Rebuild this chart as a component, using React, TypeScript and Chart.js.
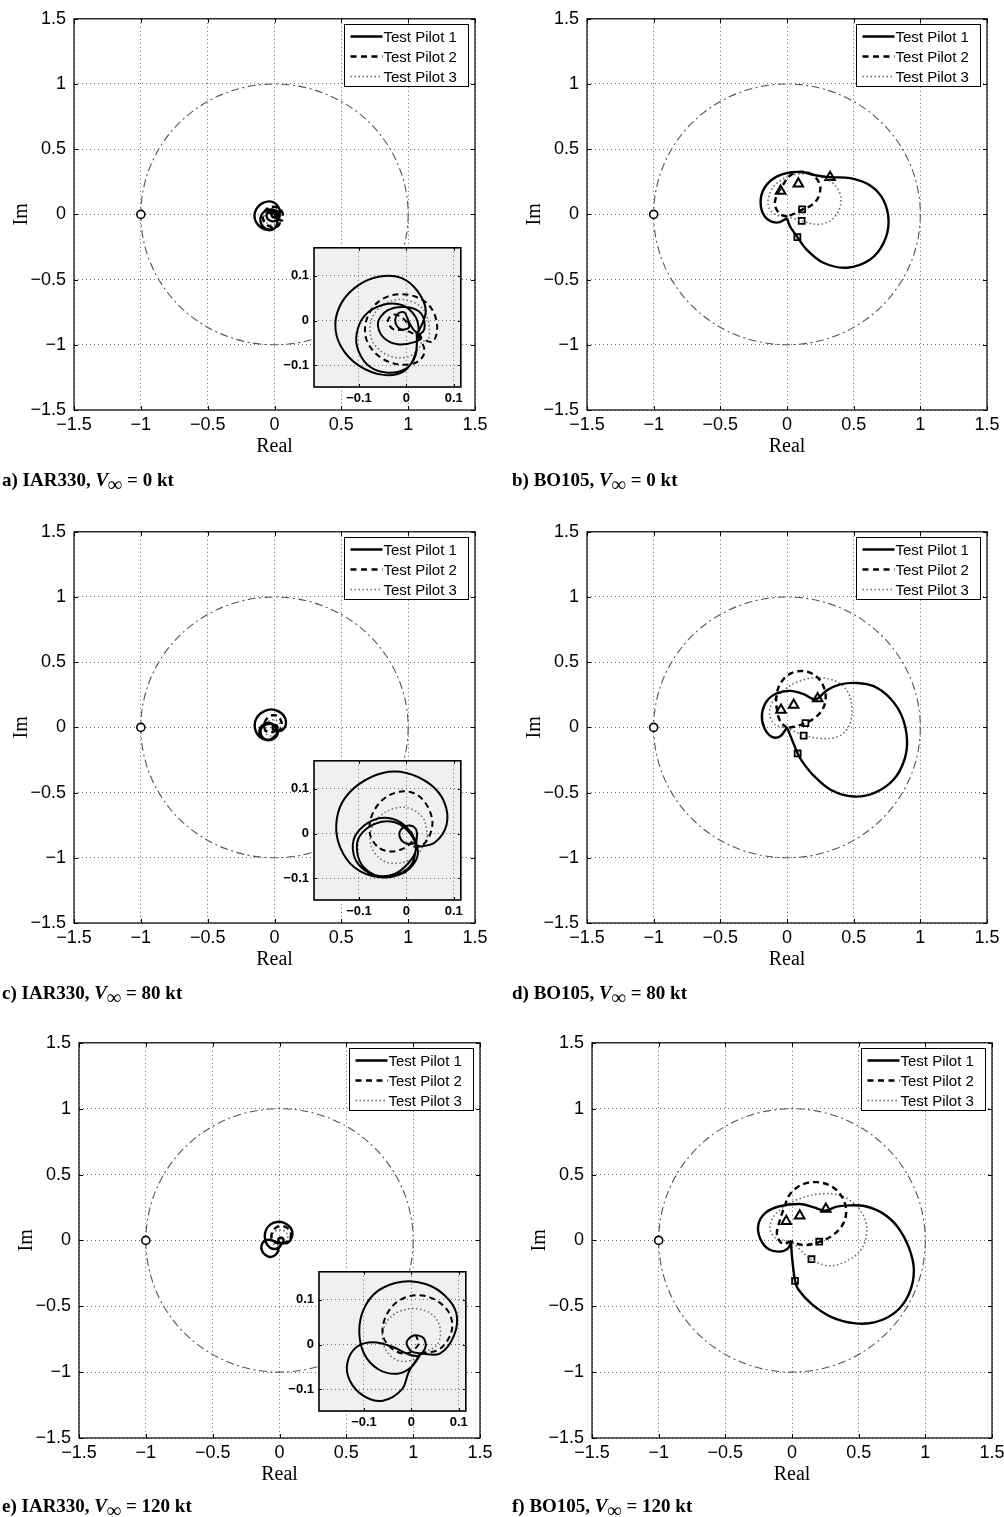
import React, { useEffect, useRef } from 'react';
import { Chart, registerables } from 'chart.js';

Chart.register(...registerables);

type P = [number, number];

// ---------- shared labels / ticks ----------
const PILOT_LABELS = ['Test Pilot 1', 'Test Pilot 2', 'Test Pilot 3'];
const AXIS_TICKS = [-1.5, -1, -0.5, 0, 0.5, 1, 1.5];
const INSET_TICKS = [-0.1, 0, 0.1];
const CRITICAL_POINT: P[] = [[-1, 0]];
const UNIT_CIRCLE_RADIUS = 1;
const AIRCRAFT = ['IAR330', 'BO105'];
const SPEEDS_KT = [0, 80, 120];
const PANEL_LETTERS = ['a', 'b', 'c', 'd', 'e', 'f'];

// ---------- IAR330, 0 kt ----------
const A_TP1: P[] = [
  [0.022, -0.034], [0.041, 0.02], [0.024, 0.065], [-0.011, 0.095], [-0.056, 0.098], [-0.101, 0.079],
  [-0.136, 0.041], [-0.15, -0.008], [-0.138, -0.058], [-0.101, -0.1], [-0.049, -0.121], [-0.004, -0.112],
  [0.019, -0.075], [0.022, -0.034], [0.019, -0.079], [-0.001, -0.107], [-0.039, -0.116], [-0.077, -0.103],
  [-0.101, -0.068], [-0.105, -0.03], [-0.088, 0.011], [-0.049, 0.035], [-0.008, 0.034], [0.019, 0.009],
  [0.026, -0.019], [0.022, -0.034], [0.038, -0.019], [0.031, 0.016], [-0.001, 0.03], [-0.039, 0.023],
  [-0.06, -0.005], [-0.049, -0.037], [-0.018, -0.053], [0.017, -0.048], [0.031, -0.037], [0.015, -0.02],
  [0.006, -0.005], [-0.004, 0.018], [-0.018, 0.015], [-0.023, -0.005], [-0.011, -0.02], [0.006, -0.015],
  [0.003, -0.001],
];
const A_TP2: P[] = [
  [0.022, -0.034], [0.055, -0.047], [0.065, -0.012], [0.051, 0.03], [0.02, 0.053], [-0.022, 0.058],
  [-0.06, 0.041], [-0.084, 0.002], [-0.085, -0.04], [-0.063, -0.075], [-0.025, -0.096], [0.017, -0.095],
  [0.038, -0.072], [0.027, -0.04], [-0.001, -0.022], [-0.028, -0.019], [-0.039, -0.001], [-0.028, 0.013],
  [-0.008, 0.006], [0.006, -0.013],
];
const A_TP3: P[] = [
  [0.022, -0.034], [0.044, -0.047], [0.048, -0.012], [0.034, 0.027], [-0.001, 0.046], [-0.039, 0.041],
  [-0.067, 0.016], [-0.077, -0.019], [-0.067, -0.054], [-0.035, -0.079], [0.003, -0.081], [0.027, -0.061],
  [0.031, -0.04], [0.015, -0.025],
];

// ---------- BO105, 0 kt ----------
const B_TP1: P[] = [
  [0, -0.03], [-0.078, -0.063], [-0.165, -0.018], [-0.198, 0.096], [-0.165, 0.21], [-0.078, 0.29],
  [0.035, 0.323], [0.123, 0.323], [0.223, 0.298], [0.323, 0.285], [0.474, 0.278], [0.624, 0.222],
  [0.724, 0.109], [0.762, -0.056], [0.724, -0.22], [0.624, -0.346], [0.449, -0.409], [0.273, -0.371],
  [0.148, -0.27], [0.078, -0.174], [0.023, -0.093], [0, -0.03],
];
const B_TP2: P[] = [
  [0, -0.018], [-0.058, 0.008], [-0.09, 0.071], [-0.078, 0.146], [-0.04, 0.21], [0.023, 0.298],
  [0.11, 0.328], [0.198, 0.298], [0.248, 0.222], [0.236, 0.134], [0.185, 0.071], [0.118, 0.038],
  [0.048, 0.003], [0, -0.018],
];
const B_TP3: P[] = [
  [0, -0.018], [-0.078, -0.005], [-0.133, 0.045], [-0.14, 0.121], [-0.103, 0.21], [-0.015, 0.28],
  [0.098, 0.31], [0.223, 0.298], [0.336, 0.247], [0.398, 0.159], [0.398, 0.058], [0.348, -0.03],
  [0.248, -0.076], [0.123, -0.056], [0.048, -0.03], [0, -0.018],
];
const B_TRI: P[] = [[-0.048, 0.18], [0.085, 0.235], [0.323, 0.285]];
const B_SQ: P[] = [[0.113, 0.038], [0.11, -0.05], [0.078, -0.174]];

// ---------- IAR330, 80 kt ----------
const C_TP1: P[] = [
  [0.023, -0.03], [0.06, -0.02], [0.085, 0.02], [0.08, 0.07], [0.05, 0.11], [0.0, 0.135], [-0.05, 0.135],
  [-0.1, 0.11], [-0.135, 0.07], [-0.148, 0.02], [-0.14, -0.03], [-0.11, -0.075], [-0.06, -0.097],
  [-0.01, -0.09], [0.02, -0.06], [0.023, -0.03], [0.004, 0.01], [-0.03, 0.033], [-0.07, 0.03],
  [-0.105, 0.0], [-0.113, -0.035], [-0.1, -0.07], [-0.065, -0.093], [-0.025, -0.09], [0.005, -0.065],
  [0.02, -0.035], [0.008, 0.0], [-0.025, 0.025], [-0.065, 0.022], [-0.098, -0.005], [-0.104, -0.04],
  [-0.09, -0.075], [-0.055, -0.096], [-0.015, -0.09], [0.013, -0.065], [0.022, -0.01], [0.02, 0.01],
  [0.005, 0.018], [-0.012, 0.008], [-0.013, -0.01], [0.0, -0.022], [0.018, -0.02], [0.022, -0.008],
];
const C_TP2: P[] = [
  [0.015, -0.03], [0.04, -0.02], [0.055, 0.02], [0.045, 0.06], [0.02, 0.088], [-0.015, 0.093],
  [-0.05, 0.075], [-0.073, 0.04], [-0.077, 0.0], [-0.06, -0.03], [-0.035, -0.04], [-0.01, -0.035],
  [0.01, -0.02], [0.012, 0.0], [0.0, 0.01],
];
const C_TP3: P[] = [
  [0.045, -0.005], [0.035, 0.035], [0.0, 0.058], [-0.04, 0.05], [-0.07, 0.02], [-0.075, -0.025],
  [-0.05, -0.06], [-0.01, -0.065], [0.025, -0.045], [0.045, -0.005],
];

// ---------- BO105, 80 kt ----------
const D_TP1: P[] = [
  [0, 0], [-0.05, -0.068], [-0.113, -0.073], [-0.17, -0.005], [-0.188, 0.096], [-0.155, 0.197],
  [-0.08, 0.26], [0.025, 0.28], [0.125, 0.255], [0.213, 0.215], [0.3, 0.285], [0.4, 0.33],
  [0.525, 0.341], [0.65, 0.316], [0.775, 0.222], [0.863, 0.083], [0.9, -0.093], [0.88, -0.25],
  [0.8, -0.4], [0.66, -0.5], [0.5, -0.53], [0.33, -0.48], [0.2, -0.37], [0.12, -0.27], [0.08, -0.2],
  [0.04, -0.1], [0, 0],
];
const D_TP2: P[] = [
  [0, -0.005], [-0.05, 0.045], [-0.075, 0.134], [-0.08, 0.235], [-0.05, 0.336], [0.025, 0.412],
  [0.125, 0.432], [0.22, 0.391], [0.28, 0.298], [0.288, 0.197], [0.25, 0.114], [0.188, 0.058],
  [0.138, 0.033], [0.063, 0.008], [0, -0.005],
];
const D_TP3: P[] = [
  [0, -0.005], [-0.088, 0.02], [-0.13, 0.096], [-0.113, 0.184], [-0.038, 0.273], [0.075, 0.348],
  [0.225, 0.381], [0.363, 0.356], [0.455, 0.273], [0.488, 0.134], [0.463, 0.008], [0.388, -0.068],
  [0.263, -0.086], [0.138, -0.063], [0.05, -0.03], [0, -0.005],
];
const D_TRI: P[] = [[-0.045, 0.134], [0.05, 0.172], [0.23, 0.222]];
const D_SQ: P[] = [[0.138, 0.033], [0.125, -0.063], [0.08, -0.2]];

// ---------- IAR330, 120 kt ----------
const E_TP1: P[] = [
  [0.02, -0.02], [0.06, -0.02], [0.09, 0.02], [0.095, 0.07], [0.07, 0.11], [0.03, 0.135], [-0.02, 0.14],
  [-0.07, 0.12], [-0.1, 0.08], [-0.11, 0.03], [-0.1, -0.02], [-0.07, -0.055], [-0.03, -0.065],
  [0.0, -0.05], [0.02, -0.02], [-0.005, -0.06], [-0.02, -0.1], [-0.06, -0.125], [-0.1, -0.115],
  [-0.13, -0.08], [-0.135, -0.04], [-0.115, -0.005], [-0.08, 0.005], [-0.04, -0.005], [-0.01, -0.02],
  [0.015, -0.025], [0.03, -0.005], [0.025, 0.015], [0.005, 0.02], [-0.01, 0.005], [0.0, -0.015],
  [0.02, -0.02],
];
const E_TP2: P[] = [
  [0.02, -0.02], [0.06, -0.01], [0.085, 0.03], [0.08, 0.07], [0.05, 0.1], [0.01, 0.11], [-0.03, 0.095],
  [-0.055, 0.06], [-0.06, 0.02], [-0.04, -0.01], [-0.01, -0.02], [0.015, 0.0], [0.01, 0.02],
];
const E_TP3: P[] = [
  [0.02, -0.02], [0.055, 0.0], [0.06, 0.04], [0.04, 0.07], [0.0, 0.08], [-0.04, 0.065], [-0.06, 0.03],
  [-0.055, -0.01], [-0.03, -0.035], [0.0, -0.035], [0.02, -0.02],
];

// ---------- BO105, 120 kt ----------
const F_TP1: P[] = [
  [-0.005, -0.005], [-0.03, -0.06], [-0.093, -0.085], [-0.174, -0.068], [-0.239, 0.015], [-0.252, 0.121],
  [-0.199, 0.209], [-0.093, 0.259], [0.058, 0.276], [0.164, 0.251], [0.247, 0.226], [0.335, 0.256],
  [0.436, 0.266], [0.549, 0.259], [0.675, 0.209], [0.788, 0.108], [0.877, -0.055], [0.914, -0.231],
  [0.877, -0.407], [0.776, -0.545], [0.625, -0.621], [0.461, -0.628], [0.297, -0.583], [0.146, -0.482],
  [0.045, -0.369], [0.023, -0.307], [0.003, -0.156], [-0.005, -0.055], [-0.005, -0.005],
];
const F_TP2: P[] = [
  [-0.005, -0.005], [-0.073, -0.025], [-0.113, 0.045], [-0.093, 0.146], [-0.055, 0.259], [-0.018, 0.347],
  [0.071, 0.422], [0.184, 0.442], [0.297, 0.41], [0.38, 0.322], [0.406, 0.209], [0.373, 0.108],
  [0.297, 0.033], [0.209, -0.01], [0.108, -0.035], [0.033, -0.025], [-0.005, -0.005],
];
const F_TP3: P[] = [
  [-0.005, -0.005], [-0.118, 0.015], [-0.164, 0.083], [-0.144, 0.171], [-0.055, 0.259], [0.071, 0.322],
  [0.222, 0.354], [0.36, 0.342], [0.474, 0.271], [0.549, 0.158], [0.557, 0.033], [0.511, -0.08],
  [0.411, -0.156], [0.285, -0.193], [0.154, -0.151], [0.058, -0.068], [-0.005, -0.005],
];
const F_TRI: P[] = [[-0.043, 0.146], [0.058, 0.188], [0.254, 0.239]];
const F_SQ: P[] = [[0.204, -0.01], [0.146, -0.143], [0.023, -0.307]];

// ---------- styling ----------
const STYLES = [
  { color: '#000000', width: 2.4, dash: [] as number[] },
  { color: '#000000', width: 2.4, dash: [6, 4] },
  { color: '#6a6a6a', width: 1.6, dash: [1.5, 2.5] },
];
const INSET_WIDTHS = [2, 2, 1.5];

const fmt = (v: number) => {
  const r = Math.round(v * 100) / 100;
  if (r === 0) return '0';
  return r < 0 ? '\u2212' + String(-r) : String(r);
};

const toXY = (arr: P[]) => arr.map(([x, y]) => ({ x, y }));

function framePlugin(opts: { legend: boolean; circle: boolean; bg: string | null; tickLen: number; boxWidth: number }) {
  return {
    id: 'frame',
    beforeDraw(chart: any) {
      if (!opts.bg) return;
      const { ctx, chartArea: a } = chart;
      ctx.save();
      ctx.fillStyle = opts.bg;
      ctx.fillRect(a.left, a.top, a.right - a.left, a.bottom - a.top);
      ctx.restore();
    },
    beforeDatasetsDraw(chart: any) {
      if (!opts.circle) return;
      const { ctx, chartArea: a } = chart;
      const xs = chart.scales.x;
      const ys = chart.scales.y;
      const cx = xs.getPixelForValue(0);
      const cy = ys.getPixelForValue(0);
      const rx = Math.abs(xs.getPixelForValue(UNIT_CIRCLE_RADIUS) - cx);
      const ry = Math.abs(ys.getPixelForValue(UNIT_CIRCLE_RADIUS) - cy);
      ctx.save();
      ctx.beginPath();
      ctx.rect(a.left, a.top, a.right - a.left, a.bottom - a.top);
      ctx.clip();
      ctx.strokeStyle = '#555555';
      ctx.lineWidth = 1.1;
      ctx.setLineDash([8, 3.5, 2, 3.5]);
      ctx.beginPath();
      ctx.ellipse(cx, cy, rx, ry, 0, 0, Math.PI * 2);
      ctx.stroke();
      ctx.restore();
    },
    afterDraw(chart: any) {
      const { ctx, chartArea: a } = chart;
      const xs = chart.scales.x;
      const ys = chart.scales.y;
      ctx.save();
      ctx.strokeStyle = '#000';
      ctx.lineWidth = 1;
      ctx.setLineDash([]);
      const t = opts.tickLen;
      ctx.beginPath();
      xs.ticks.forEach((tk: any) => {
        const px = Math.round(xs.getPixelForValue(tk.value)) + 0.5;
        ctx.moveTo(px, a.bottom);
        ctx.lineTo(px, a.bottom - t);
        ctx.moveTo(px, a.top);
        ctx.lineTo(px, a.top + t);
      });
      ys.ticks.forEach((tk: any) => {
        const py = Math.round(ys.getPixelForValue(tk.value)) + 0.5;
        ctx.moveTo(a.left, py);
        ctx.lineTo(a.left + t, py);
        ctx.moveTo(a.right, py);
        ctx.lineTo(a.right - t, py);
      });
      ctx.stroke();
      ctx.lineWidth = opts.boxWidth;
      ctx.strokeRect(a.left, a.top, a.right - a.left, a.bottom - a.top);

      if (opts.legend) {
        const w = 124;
        const h = 62;
        const lx = Math.round(a.right - 7 - w) + 0.5;
        const ly = Math.round(a.top + 5) + 0.5;
        ctx.fillStyle = '#fff';
        ctx.fillRect(lx, ly, w, h);
        ctx.lineWidth = 1;
        ctx.strokeStyle = '#000';
        ctx.strokeRect(lx, ly, w, h);
        ctx.font = '15px "Liberation Sans", Arial, sans-serif';
        ctx.textBaseline = 'middle';
        ctx.fillStyle = '#000';
        PILOT_LABELS.forEach((lab, i) => {
          const y = ly + 12 + i * 20;
          const st = STYLES[i];
          ctx.strokeStyle = st.color;
          ctx.lineWidth = st.width;
          ctx.setLineDash(i === 1 ? [6, 4.5] : st.dash);
          ctx.beginPath();
          ctx.moveTo(lx + 6, y);
          ctx.lineTo(lx + 38, y);
          ctx.stroke();
          ctx.setLineDash([]);
          ctx.fillText(lab, lx + 39, y + 1);
        });
      }
      ctx.restore();
    },
  };
}

const AREA_PAD_LEFT = 74;
const AREA_PAD_TOP = 13;
const AREA_PAD_RIGHT = 25;
const AREA_PAD_BOTTOM = 60;

function buildMain(canvas: HTMLCanvasElement, series: P[][], tri: P[], sq: P[]) {
  const datasets: any[] = series.map((s, i) => ({
    label: PILOT_LABELS[i],
    data: toXY(s),
    showLine: true,
    pointRadius: 0,
    borderColor: STYLES[i].color,
    borderWidth: STYLES[i].width,
    borderDash: STYLES[i].dash,
    tension: 0.35,
    fill: false,
  }));
  if (tri.length)
    datasets.push({
      label: 'tri',
      data: toXY(tri),
      showLine: false,
      pointStyle: 'triangle',
      pointRadius: 5.5,
      pointBorderWidth: 2,
      pointBorderColor: '#000',
      pointBackgroundColor: 'rgba(0,0,0,0)',
    });
  if (sq.length)
    datasets.push({
      label: 'sq',
      data: toXY(sq),
      showLine: false,
      pointStyle: 'rect',
      pointRadius: 4.2,
      pointBorderWidth: 1.8,
      pointBorderColor: '#000',
      pointBackgroundColor: 'rgba(0,0,0,0)',
    });
  datasets.push({
    label: 'crit',
    data: toXY(CRITICAL_POINT),
    showLine: false,
    pointStyle: 'circle',
    pointRadius: 4,
    pointBorderWidth: 1.6,
    pointBorderColor: '#000',
    pointBackgroundColor: '#fff',
  });
  const tickFont = { family: '"Liberation Sans", Arial, sans-serif', size: 18 };
  const titleFont = { family: '"Liberation Serif", "Times New Roman", serif', size: 20 };
  const grid = { color: '#6e6e6e', lineWidth: 1, drawTicks: false };
  const border = { display: false, dash: [1, 3] };
  return new Chart(canvas, {
    type: 'scatter',
    data: { datasets },
    options: {
      animation: false,
      responsive: false,
      events: [],
      layout: { padding: { top: AREA_PAD_TOP, right: AREA_PAD_RIGHT, left: 0, bottom: 0 } },
      plugins: { legend: { display: false }, tooltip: { enabled: false } },
      scales: {
        x: {
          type: 'linear',
          min: -1.5,
          max: 1.5,
          afterBuildTicks: (s: any) => {
            s.ticks = AXIS_TICKS.map((v) => ({ value: v }));
          },
          afterFit: (s: any) => {
            s.height = AREA_PAD_BOTTOM;
          },
          ticks: { font: tickFont, color: '#000', padding: 4, autoSkip: false, maxRotation: 0, callback: (v: any) => fmt(Number(v)) },
          grid,
          border,
          title: { display: true, text: 'Real', font: titleFont, color: '#000', padding: { top: 0, bottom: 11 } },
        },
        y: {
          type: 'linear',
          min: -1.5,
          max: 1.5,
          afterBuildTicks: (s: any) => {
            s.ticks = AXIS_TICKS.map((v) => ({ value: v }));
          },
          afterFit: (s: any) => {
            s.width = AREA_PAD_LEFT;
          },
          ticks: { font: tickFont, color: '#000', padding: 8, autoSkip: false, callback: (v: any) => fmt(Number(v)) },
          grid,
          border,
          title: { display: true, text: 'Im', font: titleFont, color: '#000', padding: { top: 10, bottom: 0 } },
        },
      },
    } as any,
    plugins: [framePlugin({ legend: true, circle: true, bg: null, tickLen: 4, boxWidth: 1.2 })],
  });
}

const INSET_W = 148;
const INSET_H = 147;
const INSET_PAD_LEFT = 40;
const INSET_PAD_TOP = 5;
const INSET_PAD_RIGHT = 5;
const INSET_PAD_BOTTOM = 22;
const INSET_X_RANGE = [-0.195, 0.115];
const INSET_Y_RANGE = [-0.148, 0.162];

function buildInset(canvas: HTMLCanvasElement, series: P[][]) {
  const datasets: any[] = series.map((s, i) => ({
    label: PILOT_LABELS[i],
    data: toXY(s),
    showLine: true,
    pointRadius: 0,
    borderColor: STYLES[i].color,
    borderWidth: INSET_WIDTHS[i],
    borderDash: STYLES[i].dash,
    tension: 0.35,
    fill: false,
  }));
  const tickFont = { family: '"Liberation Sans", Arial, sans-serif', size: 13, weight: 'bold' };
  const grid = { color: '#6e6e6e', lineWidth: 1, drawTicks: false };
  const border = { display: false, dash: [1, 3] };
  return new Chart(canvas, {
    type: 'scatter',
    data: { datasets },
    options: {
      animation: false,
      responsive: false,
      events: [],
      layout: { padding: { top: INSET_PAD_TOP, right: INSET_PAD_RIGHT, left: 0, bottom: 0 } },
      plugins: { legend: { display: false }, tooltip: { enabled: false } },
      scales: {
        x: {
          type: 'linear',
          min: INSET_X_RANGE[0],
          max: INSET_X_RANGE[1],
          afterBuildTicks: (s: any) => {
            s.ticks = INSET_TICKS.map((v) => ({ value: v }));
          },
          afterFit: (s: any) => {
            s.height = INSET_PAD_BOTTOM;
          },
          ticks: { font: tickFont, color: '#000', padding: 4, autoSkip: false, maxRotation: 0, callback: (v: any) => fmt(Number(v)) },
          grid,
          border,
        },
        y: {
          type: 'linear',
          min: INSET_Y_RANGE[0],
          max: INSET_Y_RANGE[1],
          afterBuildTicks: (s: any) => {
            s.ticks = INSET_TICKS.map((v) => ({ value: v }));
          },
          afterFit: (s: any) => {
            s.width = INSET_PAD_LEFT;
          },
          ticks: { font: tickFont, color: '#000', padding: 5, autoSkip: false, callback: (v: any) => fmt(Number(v)) },
          grid,
          border,
        },
      },
    } as any,
    plugins: [framePlugin({ legend: false, circle: false, bg: '#f0f0f0', tickLen: 3, boxWidth: 1.6 })],
  });
}

function Canvas({ left, top, width, height, build }: { left: number; top: number; width: number; height: number; build: (c: HTMLCanvasElement) => Chart }) {
  const ref = useRef<HTMLCanvasElement>(null);
  useEffect(() => {
    const chart = build(ref.current as HTMLCanvasElement);
    return () => chart.destroy();
  }, []);
  return <canvas ref={ref} width={width} height={height} style={{ position: 'absolute', left, top }} />;
}

const PANELS = [
  { areaLeft: 74, areaTop: 13, w: 401, h: 397, series: [A_TP1, A_TP2, A_TP3], tri: [] as P[], sq: [] as P[], inset: true, ac: 0, sp: 0, capLeft: 2, capTop: 470 },
  { areaLeft: 587, areaTop: 13, w: 400, h: 397, series: [B_TP1, B_TP2, B_TP3], tri: B_TRI, sq: B_SQ, inset: false, ac: 1, sp: 0, capLeft: 512, capTop: 470 },
  { areaLeft: 74, areaTop: 526, w: 401, h: 397, series: [C_TP1, C_TP2, C_TP3], tri: [] as P[], sq: [] as P[], inset: true, ac: 0, sp: 1, capLeft: 2, capTop: 983 },
  { areaLeft: 587, areaTop: 526, w: 400, h: 397, series: [D_TP1, D_TP2, D_TP3], tri: D_TRI, sq: D_SQ, inset: false, ac: 1, sp: 1, capLeft: 512, capTop: 983 },
  { areaLeft: 79, areaTop: 1037, w: 401, h: 401, series: [E_TP1, E_TP2, E_TP3], tri: [] as P[], sq: [] as P[], inset: true, ac: 0, sp: 2, capLeft: 2, capTop: 1496 },
  { areaLeft: 592, areaTop: 1037, w: 400, h: 401, series: [F_TP1, F_TP2, F_TP3], tri: F_TRI, sq: F_SQ, inset: false, ac: 1, sp: 2, capLeft: 512, capTop: 1496 },
];

export default function App() {
  return (
    <div style={{ position: 'absolute', left: 0, top: 0, width: 1004, height: 1517, background: '#fff', overflow: 'hidden' }}>
      {PANELS.map((p, i) => {
        const boxLeft = p.areaLeft + 240;
        const boxTop = p.areaTop + 227;
        return (
          <React.Fragment key={i}>
            <Canvas
              left={p.areaLeft - AREA_PAD_LEFT}
              top={p.areaTop - AREA_PAD_TOP}
              width={AREA_PAD_LEFT + p.w + AREA_PAD_RIGHT}
              height={AREA_PAD_TOP + p.h + AREA_PAD_BOTTOM}
              build={(c) => buildMain(c, p.series, p.tri, p.sq)}
            />
            {p.inset && (
              <Canvas
                left={boxLeft - INSET_PAD_LEFT}
                top={boxTop - INSET_PAD_TOP}
                width={INSET_PAD_LEFT + INSET_W + INSET_PAD_RIGHT}
                height={INSET_PAD_TOP + INSET_H + INSET_PAD_BOTTOM}
                build={(c) => buildInset(c, p.series)}
              />
            )}
            <div
              style={{
                position: 'absolute',
                left: p.capLeft,
                top: p.capTop,
                font: 'bold 19px "Liberation Serif", "Times New Roman", serif',
                lineHeight: '20px',
                whiteSpace: 'nowrap',
                color: '#000',
              }}
            >
              {PANEL_LETTERS[i]}) {AIRCRAFT[p.ac]}, <i>V</i>
              <sub style={{ fontSize: '1.05em', verticalAlign: '-0.25em', lineHeight: 0 }}>∞</sub> = {SPEEDS_KT[p.sp]} kt
            </div>
          </React.Fragment>
        );
      })}
    </div>
  );
}
